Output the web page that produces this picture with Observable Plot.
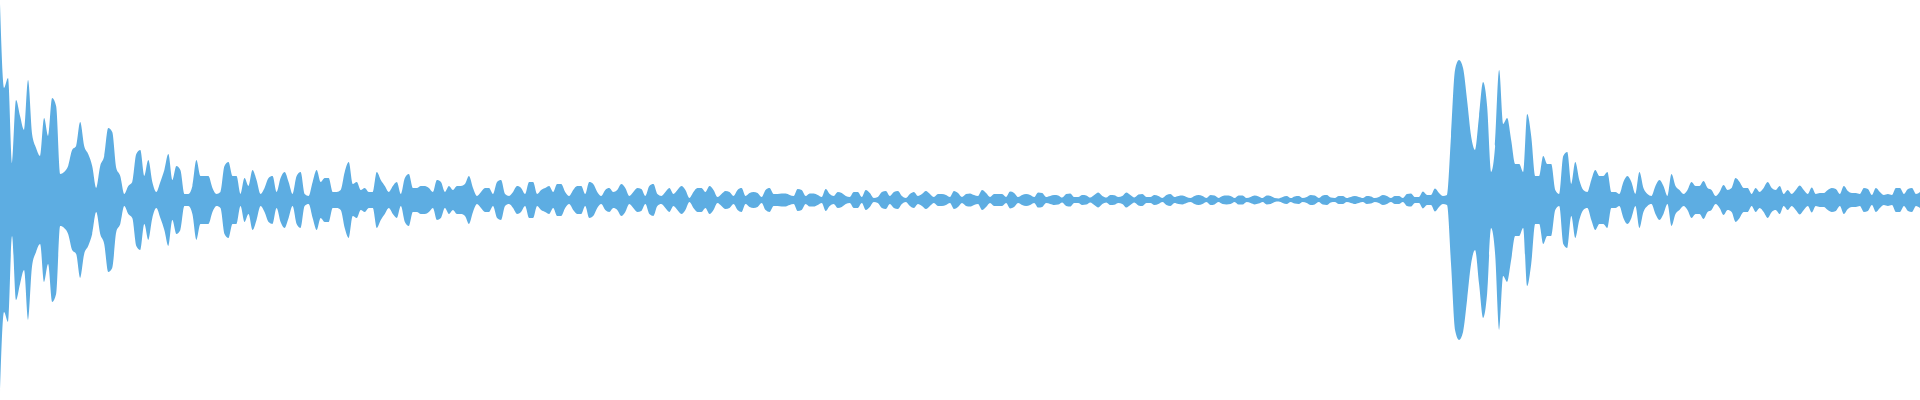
<!DOCTYPE html>
<html><head><meta charset="utf-8">
<script src="https://cdn.jsdelivr.net/npm/d3@7"></script>
<script src="https://cdn.jsdelivr.net/npm/@observablehq/plot@0.6"></script>
<style>html,body{margin:0;padding:0;background:#fff}</style>
</head><body><div id="chart"></div>
<script>
// Waveform envelope (peak amplitude, % of full scale), one value per time bin
const attack1 = [98,56,61,18,50,42,35,60,33,26,22,41,32,51,47,13,14,17,25,27,39,27,23,17,6,17,22,36,34,16,12,3,7,9,23,25,12,20,9,4,
  9,15,23,10,17,15,3,3,7,20,12,12,12,6,3,4,17,19,12,12,3,11,7,15,10,3,6,11,12,4,11,14,9,3,12,14,3,2,9,15];
const decay1 = [9,11,11,4,4,5,14,19,8,9,5,6,4,4,14,10,7,4,7,9,3,11,13,6,6,7,7,6,4,10,9,4,7,5,7,7,8,12,6,2,
  4,6,6,3,9,10,3,2,4,7,6,3,9,9,3,5,6,7,4,8,8,4,2,5,7,7,3,9,8,4,2,5,6,4,5,8,6,2,4,6];
const decay2 = [5.5,2,7,8,3,2,4,6,3,5,7,5,1,4,6,6,4,7,5,1.5,3,4.5,4,2,5,6,2,3.5,4,3.5,1.5,5,6,3,3,3.3,3.2,2.5,2,5.5,
  5,2,3.3,3.3,2.5,1.5,5.5,3,2,4,3.5,2,1.5,4,4,1.5,5,3.5,1,1.5,4,4.5,2,4,4.5,2,1,3,4,2,3,4.5,3,1.5,3,3,2.5,1.5,4.5,3.5];
const tail1 = [1.5,3,3.3,2.5,2,5,3.5,1.5,3,3,3,1.5,4.2,3.5,1.5,2.5,3,2.5,1.5,3.8,3.5,1.5,2,2.5,2.3,1.2,3,3.3,1.5,1.5,
  2.5,2.3,1.2,2.5,3.7,2,1.2,2.5,2.4,1.5,2,3.8,2.5,1.2,2.7,3,1.5,1.5,2.5,2,1,2.5,3,1.5,2,2.2,1.5,1,2,2.5,
  2,1,2.5,2.2,1,2,2.2,2,1,2.3,2.3,1,1.5,2.2,1.8,1,2.2,2,1,0.8];
const attack2 = [1.5,2,1,1.8,2,1,1.5,2.5,2.2,1,2.3,2.5,1.2,1,2,2,1,1.5,2,1.5,1,2,1.8,1,1.5,2.5,2,1,2,2,1,3,3.3,1.5,1.5,
  4.2,2.5,2.5,5.8,3.5,2,2.5,32,65,70,66,50,32,25,42,59,47,14,27,65,38,41,30,18,18,14,43,32,12,12,22,18,18,5,3,22,24,8,19,10,
  5,4,10,15,12];
const decay3 = [12,14,4,4,3,9,12,9,3,14,6,3,2,7,10,7,2,13,7,5,3,5,9,7,7,9.5,6,5,2,4,7.5,5,6,11,9,
  6,6,3,6,4,6,9,6,5,7,3,5,3,5,7.3,5,3,6.3,3,3.5,3.5,5,6,5.5,3,7,4.5,3.5,3.5,3,6,5.5,2.5,6,4,2.5,3,2.5,6,6,3,5.5,6,3,4];

const amplitude = [...attack1, ...decay1, ...decay2, ...tail1, ...attack2, ...decay3];
const samples = amplitude.map((a, i) => ({i, a: Math.max(a, 0.7)}));

const chart = Plot.plot({
  width: 1920,
  height: 400,
  margin: 0,
  x: {domain: [0, amplitude.length - 1], axis: null},
  y: {domain: [-100, 100], axis: null},
  marks: [
    Plot.areaY(samples, {x: "i", y1: d => -d.a, y2: d => d.a, fill: "#5dade2", curve: "monotone-x"})
  ]
});
document.getElementById("chart").append(chart);
</script></body></html>
